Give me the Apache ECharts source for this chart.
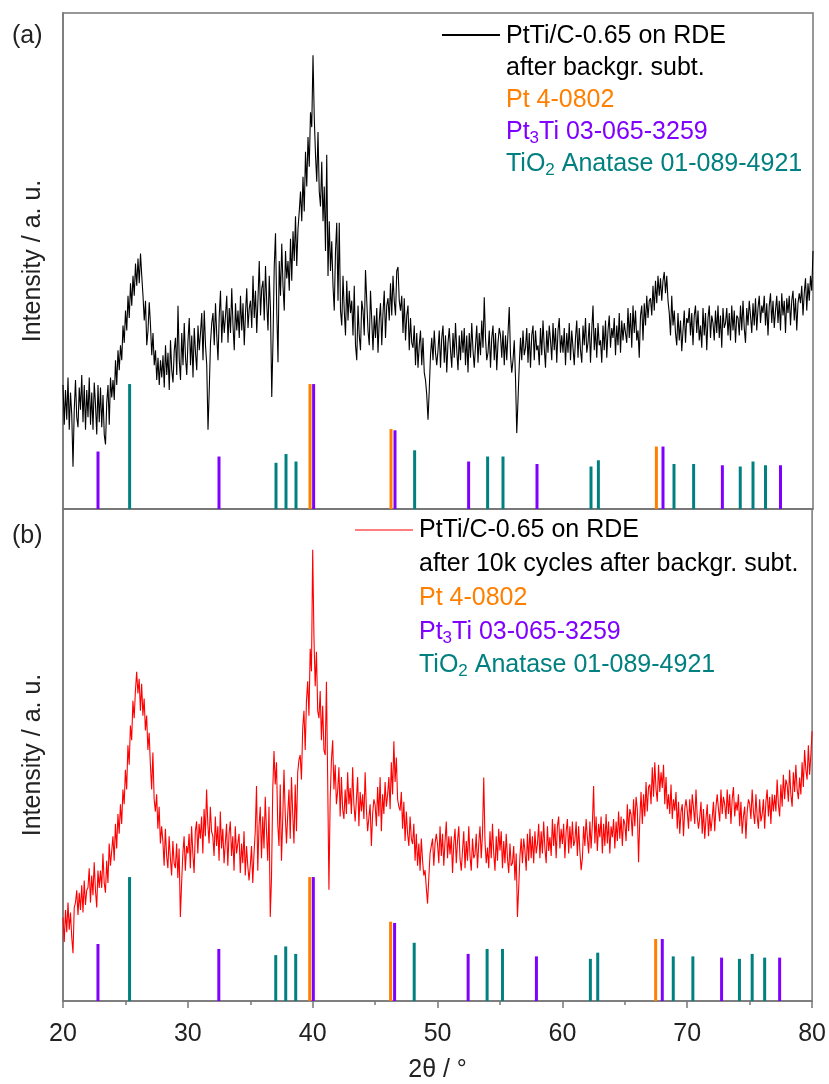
<!DOCTYPE html>
<html>
<head>
<meta charset="utf-8">
<script src="https://cdn.jsdelivr.net/npm/echarts@6/dist/echarts.min.js"></script>
<style>
html,body{margin:0;padding:0;background:#fff;}
#chart{width:829px;height:1084px;}
</style>
</head>
<body>
<div id="chart"></div>
<script>
// 2θ sampling of the measured patterns
const thetaStart = 20;
const thetaStep = 0.1;

// (a) PtTi/C-0.65 on RDE after background subtraction (a.u.)
const intensityA = [
250,170,240,180,265,160,235,190,85,200,
260,185,165,245,200,270,175,250,160,240,
185,265,170,235,160,255,210,150,250,175,
245,165,230,150,130,215,250,170,265,225,
260,220,300,250,320,280,330,300,370,335,
400,360,430,385,455,410,470,430,495,450,
505,455,515,470,430,380,420,330,360,417,
370,310,355,290,320,260,305,250,300,265,
310,245,330,270,315,240,340,280,255,320,
345,270,410,300,260,355,290,375,305,270,
340,385,290,350,265,365,315,280,370,320,
355,395,300,400,330,290,160,240,335,375,
395,330,415,350,300,390,440,335,400,355,
390,430,335,405,355,445,370,320,415,360,
400,345,430,360,415,330,395,445,365,405,
420,365,470,385,440,355,425,500,390,445,
460,380,490,415,360,470,400,226,340,490,
556,400,296,500,430,535,450,400,520,465,
500,440,545,460,560,500,590,490,565,600,
640,580,670,600,720,650,750,690,800,770,
915,790,714,660,760,640,610,700,580,650,
520,714,470,580,480,540,450,400,520,577,
420,577,400,370,470,400,350,460,380,440,
395,420,350,450,330,300,410,350,320,420,
400,350,482,420,360,330,440,380,320,390,
345,405,315,380,415,330,395,440,345,410,
425,380,455,390,470,420,390,480,488,420,
400,430,355,425,340,390,410,320,385,335,
325,370,290,355,285,330,360,290,345,275,
260,230,180,240,310,345,300,360,315,290,
320,360,285,345,370,295,350,275,335,365,
320,285,355,305,375,320,280,350,300,360,
315,365,290,350,275,355,305,375,320,285,
330,370,295,355,310,380,325,427,345,300,
315,360,285,345,370,300,355,280,335,365,
350,305,360,290,350,300,355,407,310,275,
300,340,265,153,220,290,345,300,360,310,
325,365,295,355,285,350,370,300,360,320,
330,290,365,310,380,325,285,360,315,370,
340,300,375,320,365,295,360,385,315,350,
315,365,290,355,315,375,300,360,325,290,
345,380,305,365,320,295,370,330,385,315,
335,375,295,360,410,320,365,305,375,330,
340,295,370,320,380,305,360,390,325,365,
345,385,310,370,330,395,315,380,340,375,
375,335,405,345,395,325,410,355,400,340,
360,305,390,410,340,415,370,430,385,420,
425,390,450,400,460,415,470,430,465,420,
460,478,435,470,420,395,350,430,370,400,
355,330,395,340,380,318,360,400,335,385,
375,405,350,395,330,390,410,355,400,340,
370,325,405,350,395,320,385,410,345,390,
375,340,400,355,410,345,390,325,405,365,
375,405,350,395,340,410,360,400,335,390,
385,350,410,360,420,365,335,405,370,420,
390,355,415,370,425,360,405,430,375,410,
395,430,370,415,350,410,435,375,420,365,
400,430,375,420,360,435,390,420,355,425,
395,430,370,420,440,380,425,360,415,435,
415,450,390,435,465,400,455,420,470,440,
520
];

// (b) PtTi/C-0.65 on RDE after 10k cycles after background subtraction (a.u.)
const intensityB = [
170,120,185,140,200,145,180,130,97,190,
200,225,175,220,185,235,180,245,195,225,
230,270,200,255,215,282,225,190,265,230,
265,230,300,240,220,285,240,320,275,305,
335,285,360,310,380,340,400,360,430,400,
470,430,520,480,560,530,610,575,630,669,
625,655,590,645,580,615,550,580,510,545,
480,430,505,410,385,420,350,395,320,355,
325,275,350,295,270,335,290,255,325,280,
270,320,250,310,171,240,300,335,265,315,
300,340,270,355,300,260,345,365,300,360,
330,375,300,390,335,430,360,320,395,345,
335,295,375,315,355,285,385,310,350,280,
320,360,275,340,365,295,335,265,355,300,
300,340,260,320,280,345,255,315,275,245,
275,315,240,300,345,437,265,355,395,290,
375,310,415,345,285,395,171,250,430,508,
440,485,360,315,440,285,370,470,380,320,
380,430,330,455,380,320,440,345,465,490,
500,450,555,590,510,610,650,580,716,670,
917,740,640,710,590,575,630,530,600,510,
500,649,450,226,410,490,530,430,480,400,
427,475,375,455,390,370,430,380,465,400,
433,380,475,400,365,410,455,355,425,385,
420,370,465,390,345,347,400,315,380,410,
399,355,435,375,455,345,420,380,445,395,
419,455,390,485,420,528,445,495,410,395,
387,425,350,405,325,385,340,315,375,330,
319,360,285,340,275,320,265,330,285,255,
266,230,198,250,300,298,330,275,320,340,
319,280,355,295,340,275,325,365,290,335,
298,335,260,320,350,280,325,355,290,265,
306,345,270,325,285,355,295,265,330,290,
298,340,270,320,355,290,340,454,325,280,
312,270,345,290,360,300,265,335,285,350,
306,345,270,325,280,340,290,260,320,275,
280,315,245,300,171,230,295,330,280,330,
306,265,340,285,350,290,335,280,345,300,
319,360,290,345,300,365,310,280,355,305,
333,295,370,315,360,290,355,375,310,350,
319,360,290,345,370,300,355,310,365,315,
326,365,295,355,305,266,290,355,315,370,
333,300,365,310,360,437,320,375,305,360,
333,375,300,360,315,380,320,365,300,355,
333,370,310,365,325,385,330,375,315,370,
360,325,400,345,390,379,335,410,355,415,
390,282,370,425,360,420,375,445,385,435,
440,400,475,415,485,430,405,480,425,465,
433,480,400,455,390,420,380,440,370,410,
387,425,350,405,340,385,400,335,390,410,
387,350,410,365,420,393,360,430,375,350,
373,405,340,390,330,370,400,335,380,345,
373,405,345,395,420,390,365,430,380,415,
400,370,430,380,420,360,410,435,375,405,
387,420,355,405,340,375,395,330,385,410,
400,370,430,385,360,420,375,350,410,365,
379,410,350,405,430,375,415,360,420,385,
419,385,450,400,375,440,395,460,410,450,
440,405,470,420,395,465,425,480,430,410,
454,420,485,435,510,470,450,520,460,500,
548
];

// Reference patterns (2θ positions, relative intensity %)
const ptPos = [39.76, 46.24, 67.47];
const ptInt = [100, 64, 50];
const pt3tiPos = [22.8, 32.48, 40.05, 46.56, 52.45, 57.92, 68.0, 72.75, 77.4];
const pt3tiInt = [46, 42, 100, 63, 38, 36, 50, 35, 35];
const tio2Pos = [25.33, 37.04, 37.84, 38.64, 48.13, 53.97, 55.2, 62.24, 62.83, 68.88, 70.45, 74.18, 75.2, 76.2];
const tio2Int = [100, 37, 44, 38, 47, 42, 42, 34, 39, 36, 36, 34, 38, 35];

const xTicks = [20, 30, 40, 50, 60, 70, 80];

const FONT = 'Liberation Sans, Arial, sans-serif';
const C_PT = '#FF8000', C_PT3TI = '#8000FF', C_TIO2 = '#008080';

function curve(arr){ return arr.map((v,i)=>[+(thetaStart + i*thetaStep).toFixed(2), v]); }
function sticks(pos, ints){ return pos.map((p,i)=>[p, ints[i]]); }

const chart = echarts.init(document.getElementById('chart'), null, {renderer:'canvas'});

const grids = [
  {left:63, top:13, width:750, height:496, show:true, borderColor:'#777', borderWidth:1.5},
  {left:63, top:509, width:750, height:496, show:true, borderColor:'#777', borderWidth:1.5}
];

function xAx(gi, labels){
  return {
    type:'value', gridIndex:gi, min:xTicks[0], max:xTicks[xTicks.length-1], interval:10,
    axisLine:{show:true, lineStyle:{color:'#777', width:1.5}},
    axisTick:{show:labels, length:7, lineStyle:{color:'#777', width:1.5}},
    minorTick:{show:labels, splitNumber:2, length:4, lineStyle:{color:'#777', width:1.5}},
    axisLabel:{show:labels, fontSize:25, fontFamily:FONT, color:'#222', margin:21},
    splitLine:{show:false},
    name: labels ? '2θ / °' : '', nameLocation:'middle', nameGap:57,
    nameTextStyle:{fontSize:25, fontFamily:FONT, color:'#222'}
  };
}
function yCurve(gi){
  return {
    type:'value', gridIndex:gi, min:0, max:1000,
    axisLine:{show:true, lineStyle:{color:'#777', width:1.5}},
    axisTick:{show:false}, axisLabel:{show:false}, splitLine:{show:false},
    name:'Intensity / a. u.', nameLocation:'middle', nameGap:17,
    nameTextStyle:{fontSize:25, fontFamily:FONT, color:'#222'}
  };
}
function ySticks(gi){
  return {type:'value', gridIndex:gi, min:0, max:397, show:false, splitLine:{show:false}};
}

function stickSeries(xi, yi, pos, ints, color, name){
  return {type:'bar', name:name, xAxisIndex:xi, yAxisIndex:yi, data:sticks(pos, ints),
    barWidth:3, barGap:'-100%', itemStyle:{color:color}, silent:true, z:2};
}

const series = [];
[0,1].forEach(g=>{
  series.push(stickSeries(g, g*2+1, ptPos, ptInt, C_PT, 'Pt 4-0802'));
  series.push(stickSeries(g, g*2+1, pt3tiPos, pt3tiInt, C_PT3TI, 'Pt3Ti 03-065-3259'));
  series.push(stickSeries(g, g*2+1, tio2Pos, tio2Int, C_TIO2, 'TiO2 Anatase 01-089-4921'));
});
series.push({type:'line', xAxisIndex:0, yAxisIndex:0, data:curve(intensityA), showSymbol:false,
  lineStyle:{color:'#000', width:1.1}, z:3});
series.push({type:'line', xAxisIndex:1, yAxisIndex:2, data:curve(intensityB), showSymbol:false,
  lineStyle:{color:'#FF0000', width:1.1}, z:3});

const richBase = {
  n:{fontSize:25, fontFamily:FONT, lineHeight:30, verticalAlign:'middle'},
  s:{fontSize:17, fontFamily:FONT, lineHeight:17, padding:[18,0,0,0], verticalAlign:'bottom'}
};
function legendText(x, y, text, color){
  const rich = {
    n:Object.assign({}, richBase.n, {color:color}),
    s:Object.assign({}, richBase.s, {color:color})
  };
  return {type:'text', x:x, y:y, style:{text:text, rich:rich, fill:color, font:'25px '+FONT,
    textAlign:'left', align:'left', textVerticalAlign:'middle', verticalAlign:'middle'}, z:10};
}

const graphic = [
  {type:'text', x:12, y:36, style:{text:'(a)', font:'25px '+FONT, fill:'#222', verticalAlign:'middle', textVerticalAlign:'middle'}},
  {type:'text', x:12, y:536, style:{text:'(b)', font:'25px '+FONT, fill:'#222', verticalAlign:'middle', textVerticalAlign:'middle'}},
  {type:'line', shape:{x1:442, y1:35, x2:500, y2:35}, style:{stroke:'#000', lineWidth:2.2}},
  legendText(506, 36, '{n|PtTi/C-0.65 on RDE}', '#000'),
  legendText(506, 68, '{n|after backgr. subt.}', '#000'),
  legendText(506, 100, '{n|Pt 4-0802}', C_PT),
  legendText(506, 132, '{n|Pt}{s|3}{n|Ti 03-065-3259}', C_PT3TI),
  legendText(506, 164, '{n|TiO}{s|2}{n| Anatase 01-089-4921}', C_TIO2),
  {type:'line', shape:{x1:355, y1:530, x2:413, y2:530}, style:{stroke:'#FF0000', lineWidth:1.2}},
  legendText(419, 530, '{n|PtTi/C-0.65 on RDE}', '#000'),
  legendText(419, 564, '{n|after 10k cycles after backgr. subt.}', '#000'),
  legendText(419, 598, '{n|Pt 4-0802}', C_PT),
  legendText(419, 632, '{n|Pt}{s|3}{n|Ti 03-065-3259}', C_PT3TI),
  legendText(419, 665, '{n|TiO}{s|2}{n| Anatase 01-089-4921}', C_TIO2)
];

chart.setOption({
  animation:false,
  backgroundColor:'#fff',
  grid:grids,
  xAxis:[xAx(0,false), xAx(1,true)],
  yAxis:[yCurve(0), ySticks(0), yCurve(1), ySticks(1)],
  series:series,
  graphic:graphic
});
</script>
</body>
</html>
